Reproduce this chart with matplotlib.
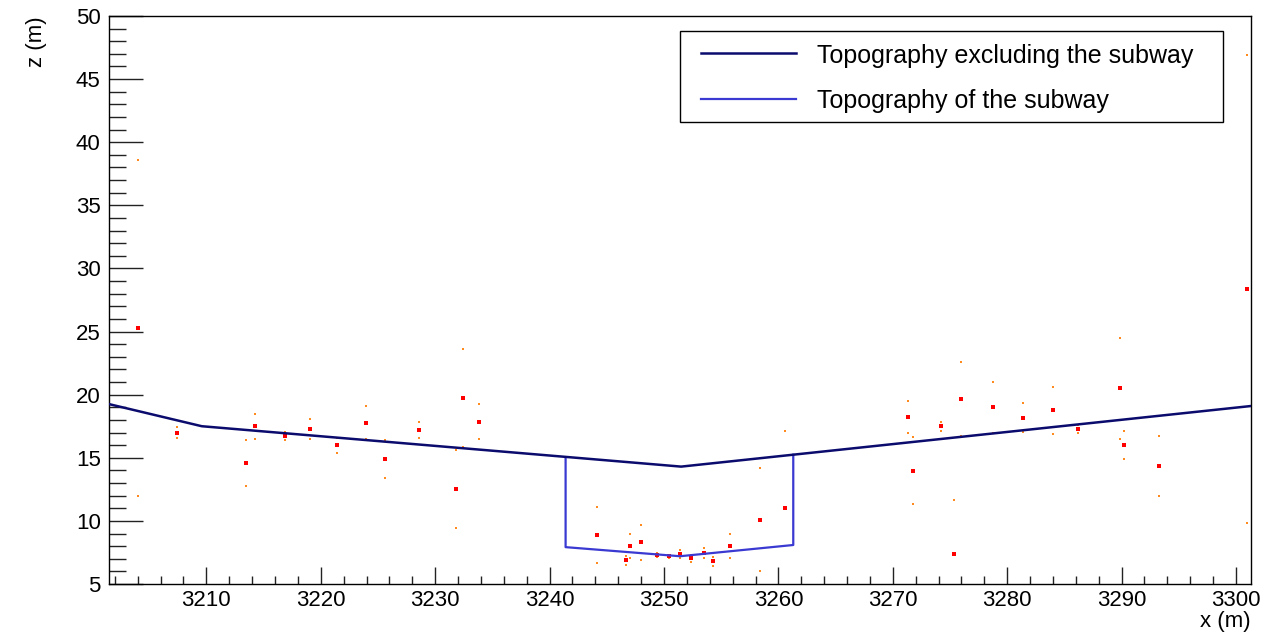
import matplotlib
matplotlib.use("Agg")
import matplotlib.pyplot as plt
from matplotlib.ticker import MultipleLocator
from matplotlib.lines import Line2D
from matplotlib.patches import Rectangle

plt.rcParams['font.family'] = ['Liberation Sans', 'DejaVu Sans']

# Topography excluding the subway (x, z) in metres
topo_x = [3201.5, 3209.6, 3251.5, 3301.3]
topo_z = [19.25, 17.5, 14.3, 19.1]

# Topography of the subway
subway_x = [3241.4, 3241.4, 3251.4, 3261.3, 3261.3]
subway_z = [15.05, 7.92, 7.2, 8.09, 15.24]

# Measured points: position, depth and uncertainty
meas_x = [3204.0, 3207.4, 3213.5, 3214.25, 3216.9, 3219.1, 3221.4, 3223.95, 3225.6,
          3228.6, 3231.85, 3232.4, 3233.8, 3244.14, 3246.7, 3247.0, 3248.0, 3249.4,
          3250.4, 3251.4, 3252.4, 3253.5, 3254.3, 3255.8, 3258.4, 3260.6, 3271.36,
          3271.8, 3274.2, 3275.35, 3276.0, 3278.76, 3281.4, 3284.0, 3286.2, 3289.9,
          3290.2, 3293.3, 3301.0]
meas_z = [25.3, 17.0, 14.57, 17.5, 16.73, 17.25, 15.99, 17.78, 14.88,
          17.2, 12.5, 19.74, 17.86, 8.88, 6.88, 7.99, 8.3, 7.32,
          7.19, 7.38, 7.04, 7.48, 6.8, 7.99, 10.1, 11.05, 18.23,
          13.98, 17.5, 7.4, 19.66, 19.0, 18.18, 18.76, 17.26, 20.5,
          15.99, 14.35, 28.35]
meas_err = [13.3, 0.45, 1.8, 1.0, 0.3, 0.8, 0.58, 1.3, 1.5,
            0.65, 3.1, 3.86, 1.4, 2.2, 0.35, 0.95, 1.37, 0.15,
            0.12, 0.3, 0.27, 0.4, 0.37, 0.95, 4.1, 6.1, 1.25,
            2.64, 0.37, 4.23, 2.95, 2.0, 1.16, 1.85, 0.3, 4.0,
            1.1, 2.35, 18.55]

x_ticks = [3210, 3220, 3230, 3240, 3250, 3260, 3270, 3280, 3290, 3300]
z_ticks = [5, 10, 15, 20, 25, 30, 35, 40, 45, 50]
legend_labels = ['Topography excluding the subway', 'Topography of the subway']

navy = '#0b0b6e'
subblue = '#3a3ad2'

W, H = 1264, 637
fig = plt.figure(figsize=(W / 100, H / 100), dpi=100)
ax = fig.add_axes([109 / W, 1 - 584 / H, 1142 / W, 568 / H])

lo = [z - e for z, e in zip(meas_z, meas_err)]
hi = [z + e for z, e in zip(meas_z, meas_err)]
ax.plot(meas_x, lo, 's', color='#ff8a1e', ms=2.0, mew=0, zorder=2)
ax.plot(meas_x, hi, 's', color='#ff8a1e', ms=2.0, mew=0, zorder=2)
ax.plot(meas_x, meas_z, 's', color='#ff0000', ms=3.3, mew=0, zorder=2)

ax.plot(subway_x, subway_z, color=subblue, lw=1.6, zorder=3)
ax.plot(topo_x, topo_z, color=navy, lw=1.8, zorder=4)

ax.set_xlim(3201.49, 3301.31)
ax.set_ylim(5, 50)
ax.set_xticks(x_ticks)
ax.set_yticks(z_ticks)
ax.xaxis.set_minor_locator(MultipleLocator(2))
ax.yaxis.set_minor_locator(MultipleLocator(1))
ax.tick_params(axis='both', which='both', direction='in', top=False, right=False,
               labelsize=16, width=1, color='#222222')
ax.tick_params(axis='x', which='major', length=12.2, pad=4)
ax.tick_params(axis='x', which='minor', length=6.0)
ax.tick_params(axis='y', which='major', length=24.5, pad=6)
ax.tick_params(axis='y', which='minor', length=12.2)
for s in ax.spines.values():
    s.set_linewidth(1)
    s.set_color('black')

ax.set_xlabel('x (m)', fontsize=16, loc='right', labelpad=0)
ax.set_ylabel('z (m)', fontsize=16, loc='top', labelpad=21)

# Legend box (ROOT TLegend style)
def fx(px):
    return px / W

def fy(py):
    return 1 - py / H

fig.patches.append(Rectangle((fx(680), fy(122)), fx(1223) - fx(680), fy(31) - fy(122),
                             transform=fig.transFigure, facecolor='white',
                             edgecolor='black', lw=1, zorder=10))
for (lbl, col, lw, ly, by) in [(legend_labels[0], navy, 1.8, 53.3, 62.5),
                               (legend_labels[1], subblue, 1.6, 99.0, 108.3)]:
    fig.lines.append(Line2D([fx(701), fx(796)], [fy(ly), fy(ly)], transform=fig.transFigure,
                            color=col, lw=lw, zorder=11))
    fig.text(fx(817), fy(by), lbl, fontsize=18, va='baseline', ha='left', zorder=11)

fig.savefig('out.png', dpi=100)
